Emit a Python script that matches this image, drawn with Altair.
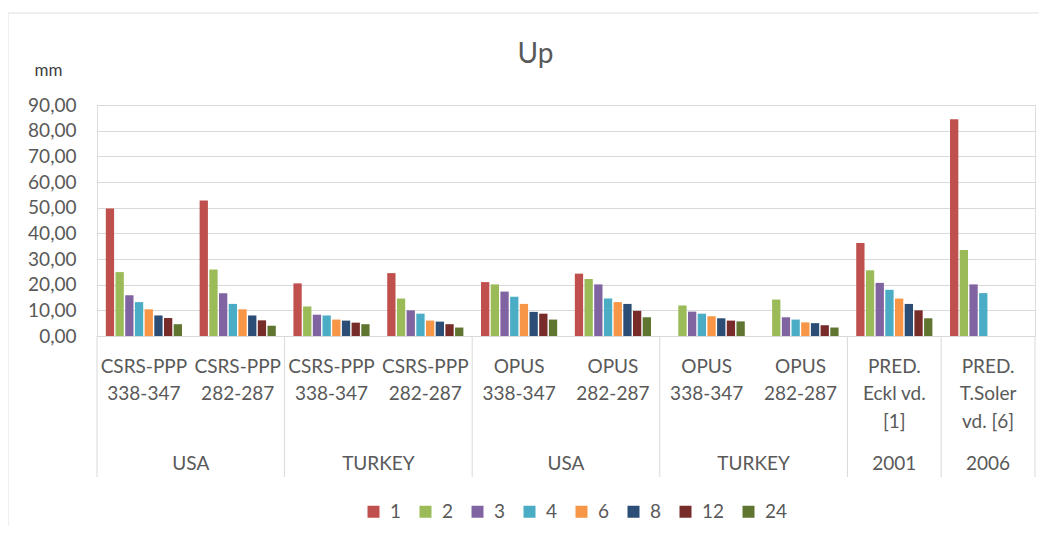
import altair as alt
import pandas as pd

# ---- data ----
chart_title = "Up"
series = ["1", "2", "3", "4", "6", "8", "12", "24"]
cat_ids = ["c0", "c1", "c2", "c3", "c4", "c5", "c6", "c7", "c8", "c9"]
cat_labels = [
    "CSRS-PPP\n338-347", "CSRS-PPP\n282-287",
    "CSRS-PPP\n338-347", "CSRS-PPP\n282-287",
    "OPUS\n338-347", "OPUS\n282-287",
    "OPUS\n338-347", "OPUS\n282-287",
    "PRED.\nEckl vd.\n[1]", "PRED.\nT.Soler\nvd. [6]",
]
group_labels = ["USA", "TURKEY", "USA", "TURKEY", "2001", "2006"]
group_first = ["c0", "c2", "c4", "c6", "c8", "c9"]
group_span = [2, 2, 2, 2, 1, 1]

# values per category, in series order (None = no bar)
values = [
    [49.7, 24.9, 15.9, 13.2, 10.4, 8.0, 7.0, 4.6],
    [52.8, 25.9, 16.7, 12.5, 10.4, 8.0, 6.1, 4.0],
    [20.5, 11.5, 8.3, 8.0, 6.4, 6.0, 5.2, 4.6],
    [24.5, 14.6, 10.0, 8.7, 6.0, 5.6, 4.6, 3.3],
    [21.0, 20.1, 17.3, 15.3, 12.5, 9.4, 8.7, 6.4],
    [24.3, 22.2, 20.1, 14.6, 13.2, 12.5, 9.8, 7.3],
    [None, 11.9, 9.5, 8.7, 7.7, 6.9, 6.0, 5.7],
    [None, 14.2, 7.3, 6.4, 5.3, 5.0, 4.2, 3.3],
    [36.2, 25.6, 20.7, 18.0, 14.6, 12.5, 10.0, 6.9],
    [84.4, 33.5, 20.1, 16.7, None, None, None, None],
]
colors = ["#C0504D", "#9BBB59", "#8064A2", "#4BACC6",
          "#F79646", "#2C4D75", "#772C2A", "#5F7530"]
y_ticks = [0, 10, 20, 30, 40, 50, 60, 70, 80, 90]

# ---- tables ----
rows = []
for cid, vals in zip(cat_ids, values):
    for s, v in zip(series, vals):
        if v is not None:
            rows.append({"cat": cid, "series": s, "value": v})
bars_df = pd.DataFrame(rows)
cats_df = pd.DataFrame({"cat": cat_ids, "label": cat_labels})
groups_df = pd.DataFrame({"cat": group_first, "label": group_labels, "span": group_span})
end_df = pd.DataFrame({"cat": [cat_ids[-1]]})
title_df = pd.DataFrame({"t": [chart_title]})

W, H = 938, 231
FONT = "Lato"
GREY = "#595959"
LINE = "#D9D9D9"

xscale = alt.Scale(domain=cat_ids, paddingInner=0, paddingOuter=0)

bars = alt.Chart(bars_df).mark_bar().encode(
    x=alt.X("cat:N", scale=xscale, axis=None),
    xOffset=alt.XOffset("series:N", scale=alt.Scale(domain=series, paddingInner=0.145, paddingOuter=0.91)),
    y=alt.Y("value:Q", scale=alt.Scale(domain=[0, 90], nice=False),
            axis=alt.Axis(values=y_ticks, labelExpr="replace(format(datum.value, '.2f'), '.', ',')",
                          grid=True, gridColor=LINE, gridWidth=1, domain=False, ticks=False,
                          labelPadding=21, labelFontSize=19, labelColor=GREY, labelFont=FONT,
                          title="mm", titleAngle=0, titleX=-49, titleY=-35, titleAlign="center",
                          titleBaseline="middle", titleFontSize=17, titleFontWeight="normal",
                          titleColor="#404040", titleFont=FONT)),
    color=alt.Color("series:N", scale=alt.Scale(domain=series, range=colors),
                    legend=alt.Legend(title=None, orient="none", direction="horizontal",
                                      legendX=267, legendY=397, symbolType="square",
                                      symbolSize=144, symbolStrokeWidth=0, labelFontSize=19,
                                      labelColor=GREY, labelFont=FONT, labelOffset=7,
                                      columnPadding=14, padding=0)),
)

cat_text = alt.Chart(cats_df).mark_text(
    font=FONT, fontSize=19, color=GREY, lineBreak="\n", lineHeight=27.3,
    baseline="alphabetic", align="center"
).encode(
    x=alt.X("cat:N", scale=xscale, bandPosition=0.5, axis=None),
    y=alt.value(268),
    text="label:N",
)

grp2 = alt.Chart(groups_df).transform_filter("datum.span == 2").mark_text(
    font=FONT, fontSize=19, color=GREY, baseline="alphabetic", align="center"
).encode(
    x=alt.X("cat:N", scale=xscale, bandPosition=1, axis=None),
    y=alt.value(365),
    text="label:N",
)
grp1 = alt.Chart(groups_df).transform_filter("datum.span == 1").mark_text(
    font=FONT, fontSize=19, color=GREY, baseline="alphabetic", align="center"
).encode(
    x=alt.X("cat:N", scale=xscale, bandPosition=0.5, axis=None),
    y=alt.value(365),
    text="label:N",
)

sep = alt.Chart(groups_df).mark_rule(color=LINE, strokeWidth=1).encode(
    x=alt.X("cat:N", scale=xscale, bandPosition=0, axis=None),
    y=alt.value(H), y2=alt.value(H + 141),
)
sep_end = alt.Chart(end_df).mark_rule(color=LINE, strokeWidth=1).encode(
    x=alt.X("cat:N", scale=xscale, bandPosition=1, axis=None),
    y=alt.value(H), y2=alt.value(H + 141),
)

# light frame of the chart area (top and left edges)
frame_top = alt.Chart(end_df).mark_rule(color="#E0E0E0", strokeWidth=1).encode(
    x=alt.value(-89), x2=alt.value(W + 10), y=alt.value(-92),
)
frame_left = alt.Chart(end_df).mark_rule(color="#E0E0E0", strokeWidth=1).encode(
    x=alt.value(-89), y=alt.value(-92), y2=alt.value(H + 200),
)

title_text = alt.Chart(title_df).mark_text(
    font=FONT, fontSize=28, color=GREY, baseline="alphabetic", align="center"
).encode(
    x=alt.value(438.5), y=alt.value(-42), text="t:N",
)

chart = alt.layer(frame_top, frame_left, bars, sep, sep_end, cat_text, grp2, grp1, title_text).properties(
    width=W, height=H,
    autosize=alt.AutoSizeParams(type="none"),
    padding={"left": 89, "top": 97, "right": 4, "bottom": 190},
).configure_view(stroke=None).configure(font=FONT)

chart.save("out.html", embed_options={"renderer": "svg", "actions": False})
